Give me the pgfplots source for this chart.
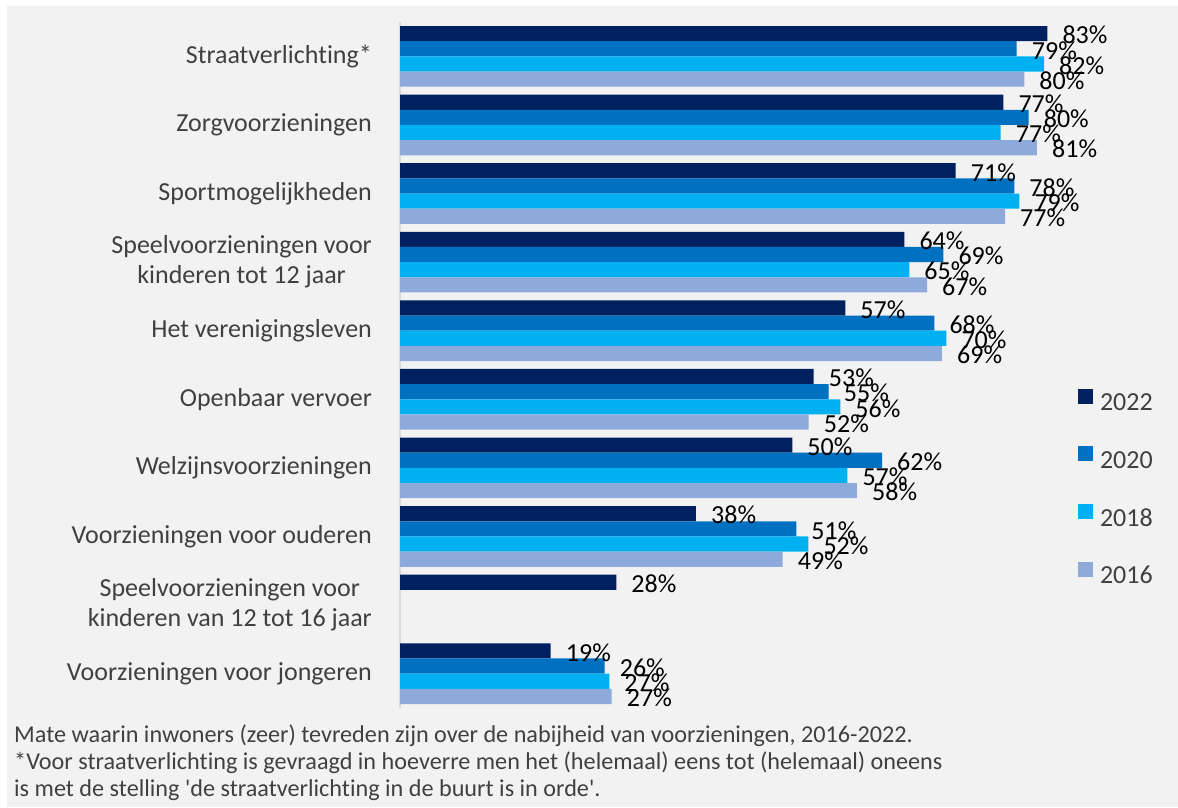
\documentclass[border=0pt]{standalone}
\usepackage{pgfplots}
\pgfplotsset{compat=1.18}
\usepackage{pgfplotstable}
\usepackage{fontspec}
\setmainfont{Carlito}[Ligatures={TeXOff,NoCommon}]
\definecolor{c22}{HTML}{002060}
\definecolor{c20}{HTML}{0070C0}
\definecolor{c18}{HTML}{00B0F0}
\definecolor{c16}{HTML}{8EAADB}
\definecolor{bg}{HTML}{F2F2F2}
\definecolor{txt}{HTML}{404040}
\definecolor{axl}{HTML}{D9D9D9}

\pgfplotstableread{
pos val lab
9 82.67 83
8 77.05 77
7 70.97 71
6 64.41 64
5 56.87 57
4 52.84 53
3 50.10 50
2 37.80 38
1 27.62 28
0 19.25 19
}\tbA
\pgfplotstableread{
pos val lab
9 78.76 79
8 80.29 80
7 78.45 78
6 69.39 69
5 68.24 68
4 54.75 55
3 61.56 62
2 50.61 51
0 26.14 26
}\tbB
\pgfplotstableread{
pos val lab
9 82.25 82
8 76.72 77
7 79.09 79
6 65.04 65
5 69.77 70
4 56.23 56
3 57.13 57
2 52.15 52
0 26.73 27
}\tbC
\pgfplotstableread{
pos val lab
9 79.73 80
8 81.35 81
7 77.27 77
6 67.31 67
5 69.22 69
4 52.20 52
3 58.36 58
2 48.88 49
0 27.04 27
}\tbD

\begin{document}
\begin{tikzpicture}[x=1pt,y=1pt]
\useasboundingbox (0,0) rectangle (1178,807);
\fill[white] (0,0) rectangle (1178,807);
\fill[bg] (7,0) rectangle (1178,801);
\begin{axis}[
  at={(400pt,99.04pt)}, anchor=south west,
  scale only axis, width=783pt, height=685.9pt,
  xmin=0, xmax=100, ymin=-0.5, ymax=9.5,
  xbar, bar width=15.17pt,
  clip=false,
  axis x line=none,
  axis y line=left,
  y axis line style={-, draw=axl, line width=1.5pt},
  ytick={0,...,9}, major tick length=0pt,
  yticklabels={Voorzieningen voor jongeren,
    {Speelvoorzieningen voor\\kinderen van 12 tot 16 jaar},
    Voorzieningen voor ouderen,
    Welzijnsvoorzieningen,
    Openbaar vervoer,
    Het verenigingsleven,
    {Speelvoorzieningen voor\\kinderen tot 12 jaar},
    Sportmogelijkheden,
    Zorgvoorzieningen,
    Straatverlichting*},
  yticklabel style={font=\fontsize{26}{30}\selectfont, text=txt, align=center, inner sep=0pt, anchor=east, xshift=-28pt},
  point meta=explicit symbolic,
  nodes near coords={\pgfplotspointmeta\%},
  every node near coord/.append style={anchor=west, inner sep=0pt, xshift=15pt, yshift=-1.5pt, font=\fontsize{26}{30}\selectfont, text=black},
  legend image code/.code={\draw[#1,draw=none] (0pt,1.2pt) rectangle (15pt,16.2pt);},
  legend style={at={(0.8659,0.4654)}, anchor=north west, draw=none, fill=none,
    inner sep=0pt, outer sep=0pt, row sep=29.4pt, column sep=7pt,
    font=\fontsize{26}{30}\selectfont, text=txt,
    nodes={inner sep=0pt, text height=18pt, text depth=6pt}},
]
\addplot[fill=c22, draw=none, bar shift=22.76pt] table[x=val, y=pos, meta=lab] {\tbA};
\addplot[fill=c20, draw=none, bar shift=7.59pt] table[x=val, y=pos, meta=lab] {\tbB};
\addplot[fill=c18, draw=none, bar shift=-7.59pt] table[x=val, y=pos, meta=lab] {\tbC};
\addplot[fill=c16, draw=none, bar shift=-22.76pt] table[x=val, y=pos, meta=lab] {\tbD};
\legend{2022,2020,2018,2016}
\end{axis}
\begin{scope}[every node/.style={anchor=base west, inner sep=0pt, text=txt, font=\fontsize{24.2}{26}\selectfont}]
\node at (14,65) {Mate waarin inwoners (zeer) tevreden zijn over de nabijheid van voorzieningen, 2016-2022.};
\node at (14,38) {*Voor straatverlichting is gevraagd in hoeverre men het (helemaal) eens tot (helemaal) oneens};
\node at (14,11) {is met de stelling 'de straatverlichting in de buurt is in orde'.};
\end{scope}
\end{tikzpicture}
\end{document}
